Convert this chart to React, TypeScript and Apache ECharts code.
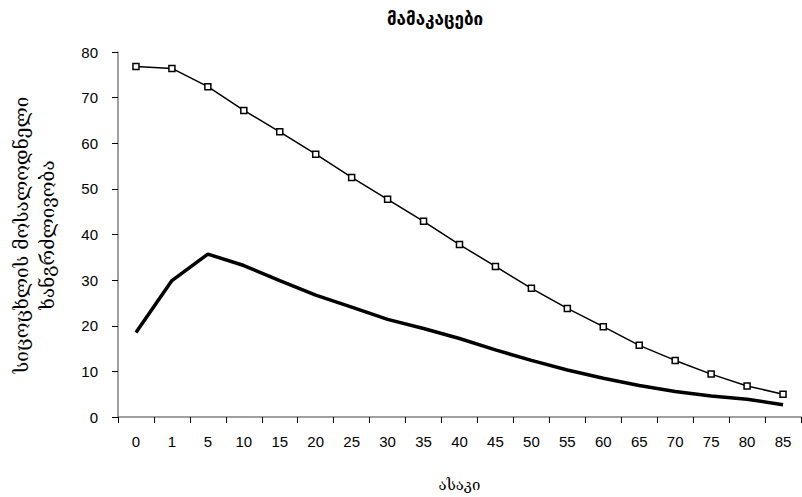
import React, { useEffect, useRef } from "react";
import * as echarts from "echarts";

const ages = ["0", "1", "5", "10", "15", "20", "25", "30", "35", "40", "45", "50", "55", "60", "65", "70", "75", "80", "85"];
const expectancy = [76.8, 76.4, 72.4, 67.2, 62.5, 57.6, 52.5, 47.7, 42.9, 37.8, 33.0, 28.2, 23.8, 19.8, 15.7, 12.4, 9.4, 6.8, 5.0];
const secondSeries = [18.5, 29.9, 35.7, 33.2, 29.9, 26.7, 24.1, 21.4, 19.4, 17.2, 14.7, 12.4, 10.3, 8.5, 6.9, 5.6, 4.6, 3.9, 2.7];
const yTicks = { min: 0, max: 80, interval: 10 };
const titleText = "მამაკაცები";
const yTitle = "სიცოცხლის მოსალოდნელი\nხანგრძლივობა";
const xTitle = "ასაკი";

export default function App() {
  const ref = useRef<HTMLDivElement>(null);
  useEffect(() => {
    if (!ref.current) return;
    const chart = echarts.init(ref.current, null, { renderer: "svg" });
    chart.setOption({
      animation: false,
      backgroundColor: "#ffffff",
      graphic: [
        {
          type: "text",
          x: 435,
          y: 19,
          style: {
            text: titleText,
            fontFamily: "DejaVu Sans",
            fontWeight: "bold",
            fontSize: 17,
            fill: "#000",
            textAlign: "center",
            textVerticalAlign: "middle",
          },
        },
        {
          type: "text",
          x: 34,
          y: 235,
          rotation: Math.PI / 2,
          style: {
            text: yTitle,
            fontFamily: "DejaVu Serif",
            fontSize: 19,
            lineHeight: 26,
            fill: "#000",
            textAlign: "center",
            textVerticalAlign: "middle",
          },
        },
      ],
      grid: { left: 118, right: 1, top: 52, bottom: 78, containLabel: false },
      xAxis: {
        type: "category",
        data: ages,
        boundaryGap: true,
        name: xTitle,
        nameLocation: "middle",
        nameGap: 60,
        nameTextStyle: { fontFamily: "DejaVu Serif", fontSize: 15, color: "#000" },
        axisLine: { lineStyle: { color: "#808080", width: 1.5 } },
        axisTick: { show: true, alignWithLabel: false, length: 6, lineStyle: { color: "#000" } },
        axisLabel: { fontFamily: "Liberation Sans", fontSize: 15, color: "#000", margin: 17, interval: 0 },
        splitLine: { show: false },
      },
      yAxis: {
        type: "value",
        min: yTicks.min,
        max: yTicks.max,
        interval: yTicks.interval,
        axisLine: { show: true, lineStyle: { color: "#808080", width: 1.5 } },
        axisTick: { show: true, length: 6, lineStyle: { color: "#000" } },
        axisLabel: { fontFamily: "Liberation Sans", fontSize: 15, color: "#000", margin: 20 },
        splitLine: { show: false },
      },
      series: [
        {
          type: "line",
          data: expectancy,
          symbol: "rect",
          symbolSize: 6,
          lineStyle: { color: "#000", width: 1.5 },
          itemStyle: { color: "#fff", borderColor: "#000", borderWidth: 1.5 },
        },
        {
          type: "line",
          data: secondSeries,
          symbol: "none",
          lineStyle: { color: "#000", width: 3.5 },
        },
      ],
    });
    return () => chart.dispose();
  }, []);
  return <div ref={ref} style={{ width: 802, height: 497, position: "absolute", left: 0, top: 0 }} />;
}
